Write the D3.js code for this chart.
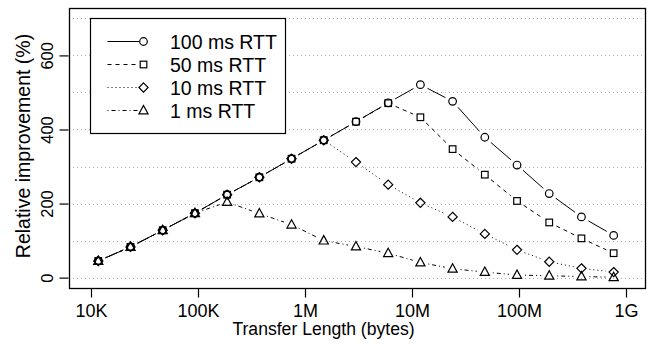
<!DOCTYPE html>
<html>
<head>
<meta charset="utf-8">
<script src="https://cdn.jsdelivr.net/npm/d3@7"></script>
<style>
  html, body { margin: 0; padding: 0; background: #fff; }
  svg { display: block; font-family: "Liberation Sans", Arial, Helvetica, sans-serif; }
</style>
</head>
<body>
<svg id="chart" width="652" height="345"></svg>
<script>
// ---- data ----
const transferLength = [11700, 23400, 46800, 93600, 187200, 374400, 748800, 1497600, 2995200,
  5990400, 11980800, 23961600, 47923200, 95846400, 191692800, 383385600, 766771200];
const rtt100 = [45, 83, 128, 174, 224, 271, 321, 371, 421, 472, 521, 476, 379, 304, 227, 164, 114];
const rtt50  = [45, 83, 128, 174, 224, 271, 321, 371, 421, 471, 433, 347, 278, 207, 149, 106, 66];
const rtt10  = [45, 83, 128, 174, 224, 271, 321, 371, 312, 251, 202, 164, 118, 75, 43, 25, 15];
const rtt1   = [45, 83, 128, 174, 204, 173, 143, 100, 84, 66, 41, 24, 15, 7, 5, 3, 1];
const seriesNames = ["100 ms RTT", "50 ms RTT", "10 ms RTT", "1 ms RTT"];
const xTickValues = [1e4, 1e5, 1e6, 1e7, 1e8, 1e9];
const xTickLabels = ["10K", "100K", "1M", "10M", "100M", "1G"];
const yTickValues = [0, 200, 400, 600];
const gridValues = [0, 100, 200, 300, 400, 500, 600, 700];

// ---- styles ----
const seriesStyle = [
  { values: rtt100, dash: null,      shape: "circle" },
  { values: rtt50,  dash: "4,4",     shape: "square" },
  { values: rtt10,  dash: "1,3",     shape: "diamond" },
  { values: rtt1,   dash: "1,3,4,3", shape: "triangle" }
];

const svg = d3.select("#chart");
const L = 69, R = 645, T = 8, B = 288;
const x = d3.scaleLog().domain([Math.pow(10, 3.7944), Math.pow(10, 9.1776)]).range([L, R]);
const y = d3.scaleLinear().domain([-28, 728]).range([B, T]);

// grid
svg.append("g").selectAll("line").data(gridValues).join("line")
  .attr("x1", L).attr("x2", R)
  .attr("y1", d => Math.round(y(d)) + 0.5).attr("y2", d => Math.round(y(d)) + 0.5)
  .attr("stroke", "#b0b0b0").attr("stroke-width", 1).attr("stroke-dasharray", "1,3");

// axes
const xAxis = svg.append("g").attr("transform", `translate(0,${B + 0.5})`)
  .call(d3.axisBottom(x).tickValues(xTickValues).tickSize(9)
    .tickFormat((d, i) => xTickLabels[i]));
xAxis.select(".domain").remove();
xAxis.selectAll("line").attr("stroke", "#000").attr("stroke-width", 1.2);
xAxis.selectAll("text").attr("font-size", 18).attr("fill", "#000")
  .attr("font-family", "Liberation Sans, Arial, sans-serif")
  .attr("y", 28.5).attr("dy", "0");

const yAxis = svg.append("g").attr("transform", `translate(${L - 0.5},0)`)
  .call(d3.axisLeft(y).tickValues(yTickValues).tickSize(9));
yAxis.select(".domain").remove();
yAxis.selectAll("line").attr("stroke", "#000").attr("stroke-width", 1.2);
yAxis.selectAll("text").attr("font-size", 16.4).attr("fill", "#000")
  .attr("font-family", "Liberation Sans, Arial, sans-serif")
  .attr("x", 0).attr("y", 0).attr("dy", "0")
  .attr("text-anchor", "middle")
  .attr("transform", "translate(-15.5,0) rotate(-90)");

// axis titles
svg.append("text").attr("x", 323.5).attr("y", 334.5).attr("text-anchor", "middle")
  .attr("font-size", 17.6).text("Transfer Length (bytes)");
svg.append("text").attr("transform", "translate(29.5,146) rotate(-90)").attr("text-anchor", "middle")
  .attr("font-size", 19.5).text("Relative improvement (%)");

// markers
function drawMarker(g, shape, cx, cy) {
  if (shape === "circle") {
    g.append("circle").attr("cx", cx).attr("cy", cy).attr("r", 3.8);
  } else if (shape === "square") {
    g.append("rect").attr("x", cx - 3.3).attr("y", cy - 3.3).attr("width", 6.6).attr("height", 6.6);
  } else if (shape === "diamond") {
    g.append("path").attr("d", `M${cx},${cy - 4.6}L${cx + 4.6},${cy}L${cx},${cy + 4.6}L${cx - 4.6},${cy}Z`);
  } else {
    g.append("path").attr("d", `M${cx},${cy - 5}L${cx + 4.6},${cy + 3.4}L${cx - 4.6},${cy + 3.4}Z`);
  }
}

// series (type "b": lines with gaps around points)
const gap = 8;
seriesStyle.forEach(s => {
  const g = svg.append("g").attr("stroke", "#000").attr("fill", "none");
  const pts = s.values.map((v, i) => [x(transferLength[i]), y(v)]);
  for (let i = 0; i < pts.length - 1; i++) {
    const [x0, y0] = pts[i], [x1, y1] = pts[i + 1];
    const dx = x1 - x0, dy = y1 - y0, len = Math.hypot(dx, dy);
    if (len <= 2 * gap) continue;
    const ux = dx / len, uy = dy / len;
    g.append("line")
      .attr("x1", x0 + ux * gap).attr("y1", y0 + uy * gap)
      .attr("x2", x1 - ux * gap).attr("y2", y1 - uy * gap)
      .attr("stroke-width", 1)
      .attr("stroke-dasharray", s.dash);
  }
  const mg = svg.append("g").attr("stroke", "#000").attr("fill", "none").attr("stroke-width", 1.2);
  pts.forEach(p => drawMarker(mg, s.shape, p[0], p[1]));
});

// box
svg.append("rect").attr("x", L + 0.5).attr("y", T + 0.5).attr("width", R - L).attr("height", B - T)
  .attr("fill", "none").attr("stroke", "#000").attr("stroke-width", 1.3);

// legend
const lg = svg.append("g");
lg.append("rect").attr("x", 90.5).attr("y", 18.5).attr("width", 195).attr("height", 115)
  .attr("fill", "#fff").attr("stroke", "#000").attr("stroke-width", 1.2);
seriesStyle.forEach((s, i) => {
  const ry = 41.5 + i * 23;
  lg.append("line").attr("x1", 107.5).attr("x2", 139).attr("y1", ry).attr("y2", ry)
    .attr("stroke", "#000").attr("stroke-width", 1).attr("stroke-dasharray", s.dash);
  const mg = lg.append("g").attr("stroke", "#000").attr("fill", "none").attr("stroke-width", 1.2);
  drawMarker(mg, s.shape, 143.5, ry);
  lg.append("text").attr("x", 170).attr("y", ry + 7).attr("font-size", 19.5).text(seriesNames[i]);
});
</script>
</body>
</html>
